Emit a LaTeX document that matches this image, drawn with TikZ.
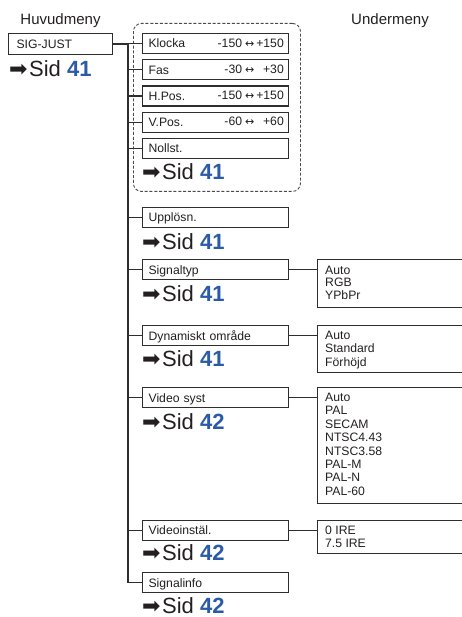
\documentclass[tikz,border=0pt]{standalone}
\usepackage{fontspec}
\setmainfont{Liberation Sans}
\newfontfamily\dv{DejaVu Sans}
\definecolor{ink}{HTML}{231F20}
\definecolor{linec}{HTML}{2E2E2E}
\definecolor{dashc}{HTML}{4A4A4A}
\definecolor{sidblue}{HTML}{2B5BA8}
\newcommand{\sidref}[1]{{\dv\symbol{"27A1}}\hspace{1.5pt}Sid {\bfseries\color{sidblue}#1}}
\newcommand{\rng}[2]{\makebox[24.4pt][r]{#1}\hspace{3pt}{\dv\fontsize{11}{13}\selectfont ↔}\hspace{2pt}\makebox[27.5pt][r]{#2}}
\begin{document}
\begin{tikzpicture}[x=1pt,y=-1pt,
  itemfont/.style={font=\fontsize{12.2}{14}\selectfont},
  itembox/.style={draw=linec, line width=1.2pt, fill=white, itemfont, text=ink,
    inner xsep=6pt, inner ysep=0pt, minimum height=20pt, text width=134pt,
    align=left, anchor=north west, text height=8.8pt, text depth=0pt},
  valtxt/.style={itemfont, text=ink, anchor=east, inner sep=0pt, text height=8.8pt, text depth=0pt},
  listbox/.style={draw=linec, line width=1.2pt, minimum width=170pt, anchor=north west, inner sep=0pt},
  listtxt/.style={itemfont, text=ink, anchor=base west, inner sep=0pt},
  sidtxt/.style={font=\fontsize{22}{24}\selectfont, text=ink, anchor=base west, inner sep=0pt, text depth=0pt},
  headtxt/.style={font=\fontsize{15}{17}\selectfont, text=ink, anchor=base, inner sep=0pt},
  conn/.style={draw=linec, line width=1.2pt}
]
\useasboundingbox (0,0) rectangle (462,617);

% headings
\node[headtxt] (hmain) at (60.5,25) {Huvudmeny};
\node[headtxt] (hsub) at (390,25) {Undermeny};

% dashed group
\node[draw=dashc, line width=0.9pt, dash pattern=on 3pt off 1.8pt, rounded corners=8pt,
  minimum width=167pt, minimum height=168pt, anchor=north west, inner sep=0pt] (grp) at (133,23) {};

% main item
\node[itembox, inner xsep=8pt, text width=88pt, minimum height=21pt] (sig) at (8,33) {SIG-JUST};
\node[sidtxt] (s0) at (9,77) {\sidref{41}};

% trunk
\coordinate (tk) at (128,0);

% sub items
\node[itembox] (klocka) at (142,33) {Klocka};
\node[itembox] (fas) at (142,59.2) {Fas};
\node[itembox] (hpos) at (142,85.4) {H.Pos.};
\node[itembox] (vpos) at (142,111.6) {V.Pos.};
\node[itembox] (noll) at (142,137.8) {Nollst.};
\node[sidtxt] (s1) at (142,180) {\sidref{41}};

\node[valtxt] (vk) at (284,43) {\rng{-150}{+150}};
\node[valtxt] (vf) at (284,69.2) {\rng{-30}{+30}};
\node[valtxt] (vh) at (284,95.4) {\rng{-150}{+150}};
\node[valtxt] (vv) at (284,121.6) {\rng{-60}{+60}};

\node[itembox] (upp) at (142,207) {Upplösn.};
\node[sidtxt] (s2) at (142,250) {\sidref{41}};

\node[itembox] (styp) at (142,259) {Signaltyp};
\node[sidtxt] (s3) at (142,301.5) {\sidref{41}};

\node[itembox] (dyn) at (142,325) {Dynamiskt område};
\node[sidtxt] (s4) at (142,366) {\sidref{41}};

\node[itembox] (vsys) at (142,387) {Video syst};
\node[sidtxt] (s5) at (142,429) {\sidref{42}};

\node[itembox] (vinst) at (142,519.5) {Videoinstäl.};
\node[sidtxt] (s6) at (142,560.5) {\sidref{42}};

\node[itembox] (sinfo) at (142,572) {Signalinfo};
\node[sidtxt] (s7) at (142,613) {\sidref{42}};

% option lists
\node[listbox, minimum height=48pt] (lstyp) at (317,259) {};
\node[listbox, minimum height=47pt] (ldyn) at (317,325) {};
\node[listbox, minimum height=116pt] (lvsys) at (317,387) {};
\node[listbox, minimum height=33pt] (lvinst) at (317,519.5) {};

\foreach \t [count=\i from 0] in {Auto,RGB,YPbPr}
  \node[listtxt] (ta\i) at (325,274.3+12.6*\i) {\t};
\foreach \t [count=\i from 0] in {Auto,Standard,Förhöjd}
  \node[listtxt] (tb\i) at (325,339.4+13.5*\i) {\t};
\foreach \t [count=\i from 0] in {Auto,PAL,SECAM,NTSC4.43,NTSC3.58,PAL-M,PAL-N,PAL-60}
  \node[listtxt] (tc\i) at (325,401.4+13.43*\i) {\t};
\foreach \t [count=\i from 0] in {0 IRE,7.5 IRE}
  \node[listtxt] (td\i) at (325,534.4+13.2*\i) {\t};

% connectors
\draw[conn] (sig.east) -- (sig.east -| tk) |- (sinfo.west);
\foreach \n in {klocka,fas,hpos,vpos,noll,upp,styp,dyn,vsys,vinst}
  \draw[conn] (\n.west -| tk) -- (\n.west);
\draw[conn] (styp.east) -- (styp.east -| lstyp.west);
\draw[conn] (dyn.east) -- (dyn.east -| ldyn.west);
\draw[conn] (vsys.east) -- (vsys.east -| lvsys.west);
\draw[conn] (vinst.east) -- (vinst.east -| lvinst.west);
\end{tikzpicture}
\end{document}
